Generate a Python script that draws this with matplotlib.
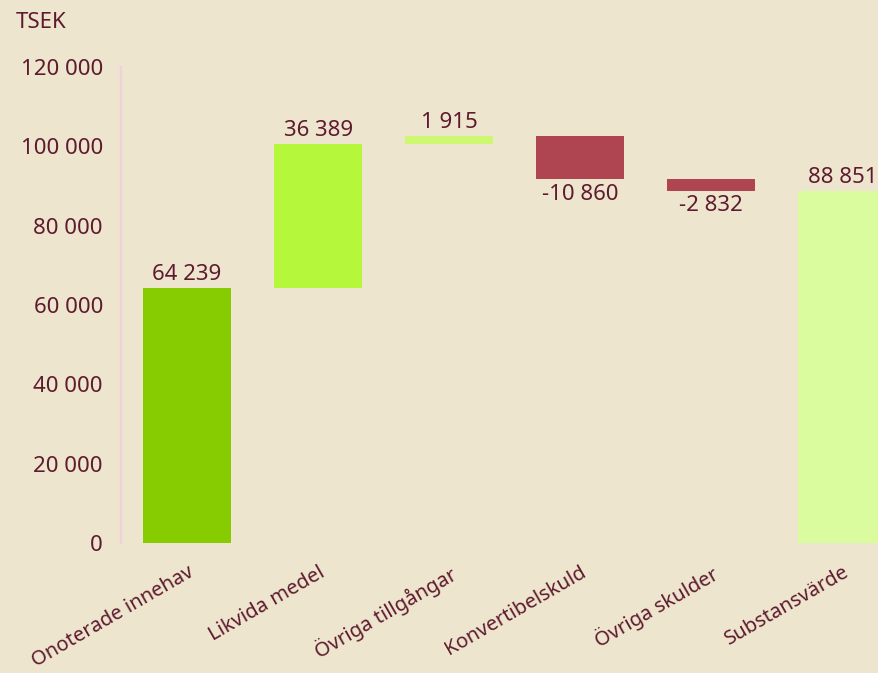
import numpy as np
import matplotlib.pyplot as plt

# data
categories = ['Onoterade innehav', 'Likvida medel', 'Övriga tillgångar',
              'Konvertibelskuld', 'Övriga skulder', 'Substansvärde']
values = [64239, 36389, 1915, -10860, -2832, 88851]
is_total = [False, False, False, False, False, True]
colors = ['#86CC00', '#B5F83B', '#CFF872', '#AE4550', '#AE4550', '#DAFB9E']
yticks = [0, 20000, 40000, 60000, 80000, 100000, 120000]

bg = '#EDE5CE'
txt = '#5E1A2E'
plt.rcParams['font.family'] = ['Noto Sans', 'DejaVu Sans']

# waterfall bottoms
bottoms = []
run = 0
for v, tot in zip(values, is_total):
    if tot:
        bottoms.append(0)
    else:
        bottoms.append(run if v >= 0 else run + v)
        run += v
heights = [abs(v) for v in values]

fig = plt.figure(figsize=(8.79, 6.73), dpi=100, facecolor=bg)
ax = fig.add_axes([121 / 879, 130 / 673, 1 - 121 / 879, 476 / 673])
ax.set_facecolor(bg)

x = np.arange(len(categories))
ax.bar(x, heights, bottom=bottoms, width=0.67, color=colors, zorder=2)

def fmt(v):
    return f'{v:,}'.replace(',', ' ')

for xi, v, b, h in zip(x, values, bottoms, heights):
    if v >= 0:
        ax.annotate(fmt(v), (xi, b + h), xytext=(0, 2), textcoords='offset points',
                    ha='center', va='bottom', fontsize=16, color=txt)
    else:
        ax.annotate(fmt(v), (xi, b), xytext=(0, -3.5), textcoords='offset points',
                    ha='center', va='top', fontsize=16, color=txt)

ax.set_xlim(-0.504, 5.28)
ax.set_ylim(0, 120000)
ax.set_yticks(yticks)
ax.set_yticklabels([fmt(t) for t in yticks], fontsize=16, color=txt)
ax.set_xticks(x)
ax.set_xticklabels(categories, rotation=30, ha='right', va='top',
                   rotation_mode='anchor', fontsize=14.5, color=txt)
ax.tick_params(axis='y', length=0, pad=13)
ax.tick_params(axis='x', length=0, pad=14)

for s in ['top', 'right', 'bottom']:
    ax.spines[s].set_visible(False)
ax.spines['left'].set_color('#F2D0D8')
ax.spines['left'].set_linewidth(1.6)

fig.text(16 / 879, 1 - 23 / 673, 'TSEK', fontsize=16, color=txt, va='center', ha='left')

fig.savefig('out.png', dpi=100, facecolor=bg)
